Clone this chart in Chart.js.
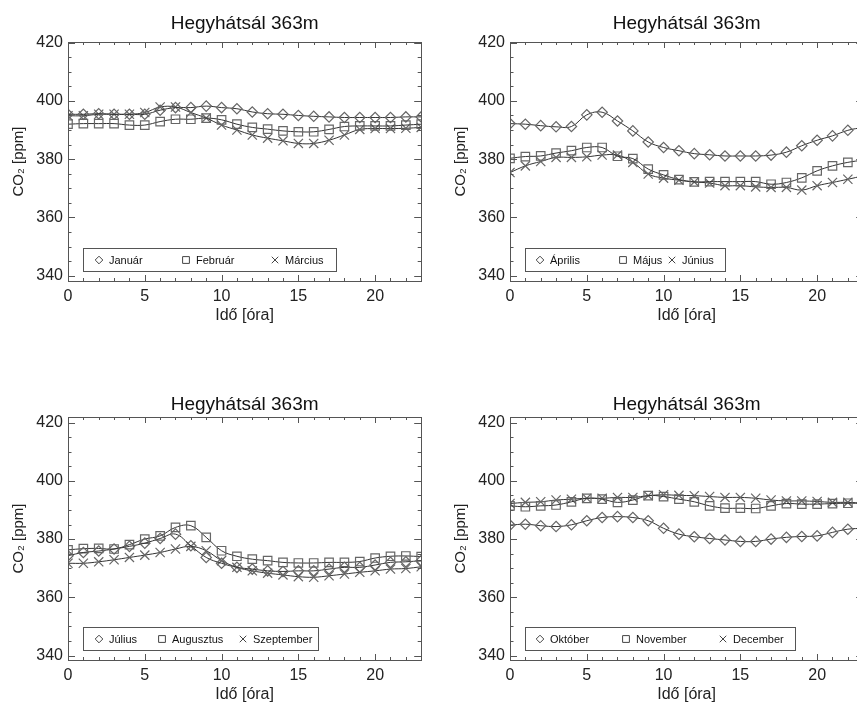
<!DOCTYPE html>
<html>
<head>
<meta charset="utf-8">
<script src="https://cdn.jsdelivr.net/npm/chart.js@4/dist/chart.umd.min.js"></script>
<style>
  html, body { margin: 0; padding: 0; background: #fff; overflow: hidden; }
  body { width: 857px; height: 702px; position: relative; }
  canvas { position: absolute; }
</style>
</head>
<body>
<canvas id="c1" width="440" height="340" style="left:0px;top:0px"></canvas>
<canvas id="c2" width="440" height="340" style="left:442px;top:0px"></canvas>
<canvas id="c3" width="440" height="344" style="left:0px;top:375px"></canvas>
<canvas id="c4" width="440" height="344" style="left:442px;top:375px"></canvas>
<script>
// ora (0-23)
var hours = [0, 1, 2, 3, 4, 5, 6, 7, 8, 9, 10, 11, 12, 13, 14, 15, 16, 17, 18, 19, 20, 21, 22, 23];
var xTicks = [0, 5, 10, 15, 20];
var yTicks = [340, 360, 380, 400, 420];
var chartTitle = 'Hegyhátsál 363m';
var xLabel = 'Idő [óra]';
var yLabel = 'CO₂ [ppm]';

// havi atlagos napi menet, ppm
var januar   = [395.4, 395.4, 395.6, 395.4, 395.4, 395.4, 396.8, 397.7, 397.7, 398.2, 397.7, 397.3, 396.2, 395.6, 395.4, 395.0, 394.7, 394.5, 394.3, 394.3, 394.3, 394.3, 394.5, 394.5];
var februar  = [392.0, 392.2, 392.2, 392.2, 391.7, 391.7, 392.9, 393.7, 393.7, 394.1, 393.5, 392.0, 390.9, 390.3, 389.7, 389.4, 389.4, 390.2, 391.2, 391.4, 391.4, 391.4, 391.7, 392.0];
var marcius  = [394.9, 394.9, 395.4, 395.4, 395.4, 396.0, 397.9, 397.9, 396.0, 394.1, 391.7, 390.0, 388.3, 387.2, 386.3, 385.4, 385.4, 386.5, 388.3, 390.2, 390.5, 390.5, 390.6, 390.9];
var aprilis  = [392.2, 392.0, 391.5, 391.1, 391.2, 395.2, 396.1, 393.1, 389.7, 385.9, 384.0, 382.9, 381.9, 381.5, 381.1, 381.1, 381.1, 381.4, 382.4, 384.6, 386.5, 388.0, 389.9, 390.9];
var majus    = [380.3, 380.9, 381.1, 382.1, 382.9, 384.0, 384.0, 381.0, 380.2, 376.6, 374.6, 373.0, 372.2, 372.3, 372.3, 372.3, 372.3, 371.4, 372.0, 373.6, 376.0, 377.7, 378.9, 379.7];
var junius   = [375.4, 377.7, 379.2, 380.6, 380.6, 380.8, 381.4, 381.4, 378.9, 374.9, 373.5, 372.8, 372.2, 371.8, 370.9, 370.9, 370.5, 370.3, 370.3, 369.4, 370.9, 372.0, 373.1, 374.3];
var julius   = [374.3, 375.4, 375.9, 376.6, 377.5, 378.6, 380.2, 381.7, 377.7, 373.7, 371.7, 370.3, 369.7, 369.1, 368.9, 369.1, 369.1, 369.7, 370.3, 370.3, 371.1, 372.0, 372.2, 372.6];
var augusztus = [376.3, 376.7, 376.8, 376.6, 378.1, 380.0, 381.1, 384.0, 384.6, 380.6, 376.0, 374.1, 373.1, 372.6, 372.0, 371.8, 371.8, 372.0, 372.0, 372.3, 373.5, 374.1, 374.2, 374.0];
var szeptember = [371.7, 371.7, 372.2, 372.9, 373.7, 374.5, 375.4, 376.6, 377.5, 376.0, 372.6, 370.3, 369.1, 368.3, 367.7, 367.1, 366.9, 367.4, 368.0, 368.6, 369.1, 369.7, 369.9, 370.5];
var oktober  = [384.8, 385.1, 384.6, 384.3, 384.9, 386.3, 387.4, 387.7, 387.4, 386.3, 383.7, 381.7, 380.8, 380.2, 379.7, 379.2, 379.2, 380.0, 380.6, 380.9, 381.1, 382.3, 383.4, 383.7];
var november = [391.4, 391.1, 391.4, 391.7, 392.8, 394.0, 393.7, 392.6, 393.4, 394.9, 394.6, 393.7, 392.8, 391.4, 390.6, 390.6, 390.5, 391.4, 392.2, 392.0, 392.0, 392.2, 392.3, 392.3];
var december = [392.2, 392.6, 392.8, 393.4, 393.7, 394.0, 394.0, 394.3, 394.3, 394.9, 395.2, 395.0, 394.9, 394.6, 394.3, 394.3, 394.0, 393.4, 393.1, 393.1, 392.9, 392.6, 392.6, 392.3];

var FONT = "'Liberation Sans', Arial, sans-serif";
var markers = ['rectRot', 'rect', 'crossRot'];
var markerSize = [5.2, 6, 6.5];

var panels = [
    { id: 'c1', names: ['Január', 'Február', 'Március'], data: [januar, februar, marcius],
      ymin: 338.2, ymax: 420.2, titleGap: 13, legendX: [31, 118, 207], legendW: 253 },
    { id: 'c2', names: ['Április', 'Május', 'Június'], data: [aprilis, majus, junius],
      ymin: 338.2, ymax: 420.2, titleGap: 13, legendX: [30, 113, 162], legendW: 200 },
    { id: 'c3', names: ['Július', 'Augusztus', 'Szeptember'], data: [julius, augusztus, szeptember],
      ymin: 338.5, ymax: 421.9, titleGap: 7.5, legendX: [31, 94, 175], legendW: 235 },
    { id: 'c4', names: ['Október', 'November', 'December'], data: [oktober, november, december],
      ymin: 338.5, ymax: 421.9, titleGap: 7.5, legendX: [30, 116, 213], legendW: 270 }
];

function drawMark(ctx, style, x, y, r) {
    ctx.beginPath();
    if (style === 'rectRot') {
        ctx.moveTo(x, y - r); ctx.lineTo(x + r, y); ctx.lineTo(x, y + r); ctx.lineTo(x - r, y); ctx.closePath();
    } else if (style === 'rect') {
        var s = r * Math.SQRT1_2;
        ctx.rect(x - s, y - s, 2 * s, 2 * s);
    } else {
        var d = r * Math.SQRT1_2;
        ctx.moveTo(x - d, y - d); ctx.lineTo(x + d, y + d);
        ctx.moveTo(x + d, y - d); ctx.lineTo(x - d, y + d);
    }
    ctx.stroke();
}

// keret, befele allo osztasok, cim es jelmagyarazat
var framePlugin = {
    id: 'frame',
    afterDraw: function(chart) {
        var ctx = chart.ctx, a = chart.chartArea;
        var xs = chart.scales.x, ys = chart.scales.y;
        var p = chart.options.plugins.frame;
        ctx.save();
        ctx.strokeStyle = '#555';
        ctx.lineWidth = 1;
        ctx.strokeRect(Math.round(a.left) + 0.5, Math.round(a.top) + 0.5,
            Math.round(a.right - a.left), Math.round(a.bottom - a.top));

        ctx.beginPath();
        hours.forEach(function(h) {
            var px = Math.round(xs.getPixelForValue(h)) + 0.5;
            var len = h % 5 === 0 ? 6 : 3;
            ctx.moveTo(px, a.bottom); ctx.lineTo(px, a.bottom - len);
            ctx.moveTo(px, a.top); ctx.lineTo(px, a.top + len);
        });
        for (var v = 340; v <= 420; v += 5) {
            var py = Math.round(ys.getPixelForValue(v)) + 0.5;
            var l = v % 20 === 0 ? 7 : 3.5;
            ctx.moveTo(a.left, py); ctx.lineTo(a.left + l, py);
            ctx.moveTo(a.right, py); ctx.lineTo(a.right - l, py);
        }
        ctx.stroke();

        // cim
        ctx.fillStyle = '#111';
        ctx.font = '19px ' + FONT;
        ctx.textAlign = 'center';
        ctx.textBaseline = 'alphabetic';
        ctx.fillText(chartTitle, (a.left + a.right) / 2, a.top - p.titleGap);

        // jelmagyarazat
        var bx = Math.round(a.left + 15) + 0.5;
        var bh = 23;
        var by = Math.round(a.bottom - 10 - bh) + 0.5;
        ctx.strokeStyle = '#555';
        ctx.strokeRect(bx, by, p.legendW, bh);
        ctx.font = '11px ' + FONT;
        ctx.textAlign = 'left';
        ctx.textBaseline = 'middle';
        p.names.forEach(function(name, i) {
            var mx = a.left + p.legendX[i];
            var my = by + bh / 2;
            ctx.strokeStyle = '#444';
            ctx.lineWidth = 1;
            drawMark(ctx, markers[i], mx, my, [3.8, 4.8, 4.6][i]);
            ctx.fillStyle = '#111';
            ctx.fillText(name, mx + 10, my + 0.5);
        });
        ctx.restore();
    }
};

function makeChart(p) {
    var ctx = document.getElementById(p.id).getContext('2d');
    var datasets = p.data.map(function(d, i) {
        return {
            label: p.names[i],
            data: d,
            borderColor: '#333',
            borderWidth: 1,
            tension: 0.4,
            pointStyle: markers[i],
            pointRadius: markerSize[i],
            pointBorderColor: '#666',
            pointBorderWidth: 1.2,
            pointBackgroundColor: 'rgba(0,0,0,0)'
        };
    });
    return new Chart(ctx, {
        type: 'line',
        data: { labels: hours, datasets: datasets },
        options: {
            responsive: false,
            animation: false,
            events: [],
            layout: { padding: { top: 42, right: 18.8, left: 0, bottom: 0 } },
            plugins: {
                legend: { display: false },
                tooltip: { enabled: false },
                frame: { names: p.names, titleGap: p.titleGap, legendX: p.legendX, legendW: p.legendW }
            },
            scales: {
                x: {
                    type: 'linear', min: 0, max: 23,
                    grid: { display: false, drawTicks: false },
                    border: { display: false },
                    afterBuildTicks: function(s) { s.ticks = xTicks.map(function(v) { return { value: v }; }); },
                    afterFit: function(s) { s.height = 59; },
                    ticks: { color: '#222', font: { family: FONT, size: 16 }, padding: 6, maxRotation: 0, autoSkip: false },
                    title: { display: true, text: xLabel, color: '#222', font: { family: FONT, size: 16 },
                        padding: { top: 0, bottom: 15 } }
                },
                y: {
                    min: p.ymin, max: p.ymax,
                    grid: { display: false, drawTicks: false },
                    border: { display: false },
                    afterBuildTicks: function(s) { s.ticks = yTicks.map(function(v) { return { value: v }; }); },
                    afterFit: function(s) { s.width = 68; },
                    ticks: { color: '#222', font: { family: FONT, size: 16 }, padding: 5 },
                    title: { display: true, text: yLabel, color: '#222', font: { family: FONT, size: 15 },
                        padding: { top: 10, bottom: 0 } }
                }
            }
        },
        plugins: [framePlugin]
    });
}

panels.forEach(makeChart);
</script>
</body>
</html>
